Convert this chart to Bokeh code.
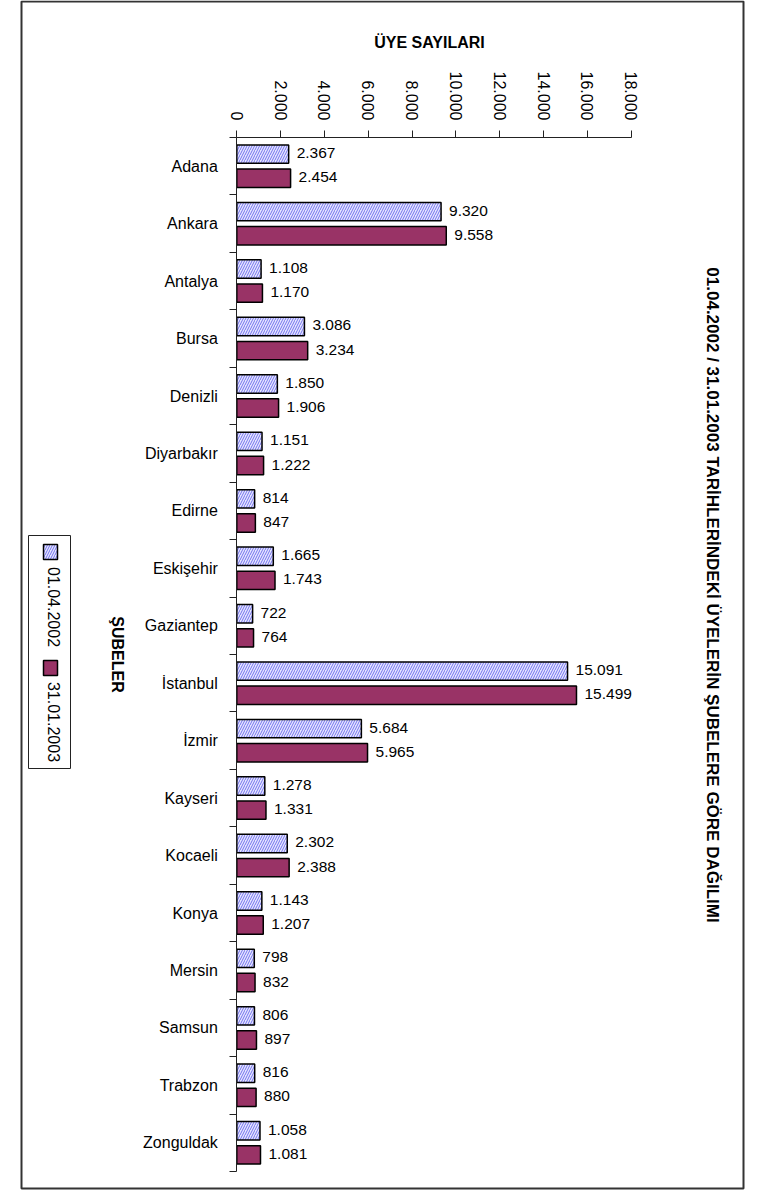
import math
from bokeh.plotting import figure
from bokeh.models import (Range1d, LinearAxis, FixedTicker, ColumnDataSource,
                          Label, BoxAnnotation)
from bokeh.core.properties import value
from bokeh.embed import file_html
from bokeh.resources import INLINE

# ---------------- data ----------------
categories = ["Adana", "Ankara", "Antalya", "Bursa", "Denizli", "Diyarbakır",
              "Edirne", "Eskişehir", "Gaziantep", "İstanbul", "İzmir", "Kayseri",
              "Kocaeli", "Konya", "Mersin", "Samsun", "Trabzon", "Zonguldak"]
members_2002 = [2367, 9320, 1108, 3086, 1850, 1151, 814, 1665, 722, 15091,
                5684, 1278, 2302, 1143, 798, 806, 816, 1058]
members_2003 = [2454, 9558, 1170, 3234, 1906, 1222, 847, 1743, 764, 15499,
                5965, 1331, 2388, 1207, 832, 897, 880, 1081]
series_names = ["01.04.2002", "31.01.2003"]
x_ticks = [0, 2000, 4000, 6000, 8000, 10000, 12000, 14000, 16000, 18000]
x_tick_labels = ["0", "2.000", "4.000", "6.000", "8.000", "10.000", "12.000",
                 "14.000", "16.000", "18.000"]
title_text = "01.04.2002 / 31.01.2003 TARİHLERİNDEKİ ÜYELERİN ŞUBELERE GÖRE DAĞILIMI"
x_title = "ÜYE SAYILARI"
y_title = "ŞUBELER"

FONT = "Liberation Sans"
C2002_FILL = "#e6e6ff"
C2002_HATCH = "#7373ee"
C2003 = "#993366"
LINE = "#222222"

W, H = 760, 1190
# pixel layout of the plot area (page coordinates)
X0_PX, X18K_PX = 236.3, 630.8      # value 0 and value 18000
TOP_PX, BOT_PX = 137.0, 1171.0     # top and bottom category boundaries

n = len(categories)
ux = 18000.0 / (X18K_PX - X0_PX)          # data units per px (x)
uy = n / (BOT_PX - TOP_PX)                # data units per px (y)

def X(px):
    return (px - X0_PX) * ux

def Y(py):
    return (py - TOP_PX) * uy - 0.5

def fmt(v):
    return f"{v:,}".replace(",", ".")

idx = list(range(n))
off = 0.21
bar_h = 0.32

src1 = ColumnDataSource(dict(y=[i - off for i in idx], v=members_2002,
                             t=[fmt(v) for v in members_2002]))
src2 = ColumnDataSource(dict(y=[i + off for i in idx], v=members_2003,
                             t=[fmt(v) for v in members_2003]))

p = figure(width=W, height=H, output_backend="svg", toolbar_location=None,
           x_range=Range1d(X(0), X(W)), y_range=Range1d(Y(H), Y(0)),
           x_axis_type=None, y_axis_type=None,
           min_border=0, min_border_left=0, min_border_right=0,
           min_border_top=0, min_border_bottom=0)
p.outline_line_color = None
p.background_fill_color = "white"
p.border_fill_color = "white"

# bars
p.hbar(y="y", right="v", left=0, height=bar_h, source=src1,
       fill_color=C2002_FILL, line_color="black", line_width=1.5,
       hatch_pattern="/", hatch_color=C2002_HATCH, hatch_scale=5, hatch_weight=1)
p.hbar(y="y", right="v", left=0, height=bar_h, source=src2,
       fill_color=C2003, line_color="black", line_width=1.5)

# value labels
for s in (src1, src2):
    p.text(x="v", y="y", text="t", source=s, x_offset=8, y_offset=-1,
           text_align="left", text_baseline="middle",
           text_font=value(FONT), text_font_size="15.5px", text_color="black")

# top value axis
xa = LinearAxis(ticker=FixedTicker(ticks=x_ticks), bounds=(0, 18000),
                fixed_location=-0.5)
xa.major_label_overrides = {t: l for t, l in zip(x_ticks, x_tick_labels)}
xa.major_label_orientation = -math.pi / 2
xa.major_tick_out = 7
xa.major_tick_in = 0
xa.minor_tick_out = 0
xa.minor_tick_in = 0
xa.major_label_standoff = 10
xa.major_label_text_font = FONT
xa.major_label_text_font_size = "16px"
xa.major_label_text_color = "black"
xa.axis_line_color = LINE
xa.major_tick_line_color = LINE
p.add_layout(xa, "above")

# left category axis
ya = LinearAxis(ticker=FixedTicker(ticks=idx, minor_ticks=[i - 0.5 for i in range(n + 1)]),
                bounds=(-0.5, n - 0.5), fixed_location=0)
ya.major_label_overrides = {i: c for i, c in zip(idx, categories)}
ya.major_tick_out = 0
ya.major_tick_in = 0
ya.minor_tick_out = 7
ya.minor_tick_in = 0
ya.major_label_standoff = 12
ya.major_label_text_font = FONT
ya.major_label_text_font_size = "16px"
ya.major_label_text_color = "black"
ya.axis_line_color = LINE
ya.minor_tick_line_color = LINE
p.add_layout(ya, "left")

# outer border
p.add_layout(BoxAnnotation(left=X(21), right=X(743), top=Y(1), bottom=Y(1188),
                           fill_color=None, fill_alpha=0, line_color="#333333",
                           line_alpha=1, line_width=2))

# titles
p.add_layout(Label(x=X(429), y=Y(42), text=x_title, text_align="center",
                   text_baseline="middle", text_font=FONT, text_font_size="16px",
                   text_font_style="bold", text_color="black"))
p.add_layout(Label(x=X(711.5), y=Y(594.5), text=title_text, angle=-math.pi / 2,
                   text_align="center", text_baseline="middle", text_font=FONT,
                   text_font_size="17px", text_font_style="bold", text_color="black"))
p.add_layout(Label(x=X(117), y=Y(654), text=y_title, angle=-math.pi / 2,
                   text_align="center", text_baseline="middle", text_font=FONT,
                   text_font_size="16px", text_font_style="bold", text_color="black"))

# legend (rotated)
p.add_layout(BoxAnnotation(left=X(28), right=X(70), top=Y(535), bottom=Y(768),
                           fill_color="white", fill_alpha=1, line_color=LINE,
                           line_alpha=1, line_width=1))
p.add_layout(BoxAnnotation(left=X(43), right=X(57), top=Y(544), bottom=Y(559),
                           fill_color=C2002_FILL, fill_alpha=1, line_color="black",
                           line_alpha=1, line_width=1.5,
                           hatch_pattern="/", hatch_color=C2002_HATCH, hatch_scale=5,
                           hatch_weight=1, hatch_alpha=1))
p.add_layout(BoxAnnotation(left=X(43), right=X(57), top=Y(660), bottom=Y(675),
                           fill_color=C2003, fill_alpha=1, line_color="black",
                           line_alpha=1, line_width=1.5))
p.add_layout(Label(x=X(53.5), y=Y(606.5), text=series_names[0], angle=-math.pi / 2,
                   text_align="center", text_baseline="middle", text_font=FONT,
                   text_font_size="16px", text_color="black"))
p.add_layout(Label(x=X(53.5), y=Y(721.5), text=series_names[1], angle=-math.pi / 2,
                   text_align="center", text_baseline="middle", text_font=FONT,
                   text_font_size="16px", text_color="black"))

open("out.html", "w").write(file_html(p, INLINE))
